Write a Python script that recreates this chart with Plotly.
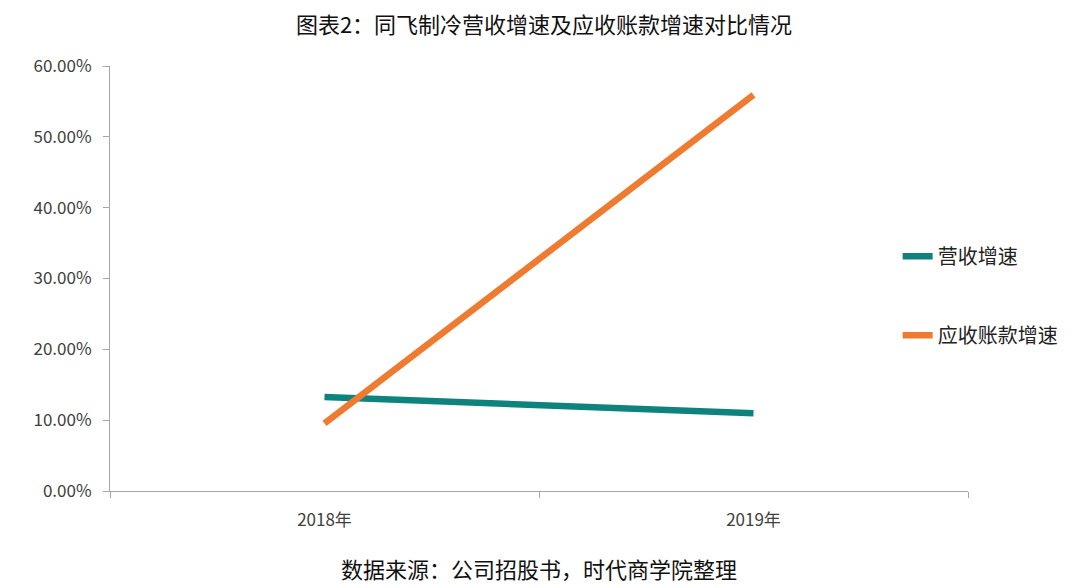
import plotly.graph_objects as go

years = ["2018年", "2019年"]
revenue_growth = [0.1328, 0.1098]
receivable_growth = [0.0955, 0.5592]

fig = go.Figure()

fig.add_trace(go.Scatter(x=years, y=revenue_growth, mode="lines", name="营收增速",
                         legendgroup="a", line=dict(color="#0E837E", width=6.5)))
fig.add_trace(go.Scatter(x=years, y=receivable_growth, mode="lines", name="应收账款增速",
                         legendgroup="b", line=dict(color="#EE7B30", width=6.5)))

# page body has an 8px margin, so the figure is a bit smaller than the window
fig.update_layout(
    width=1072, height=580,
    margin=dict(l=102, r=112, t=58, b=97),
    paper_bgcolor="white", plot_bgcolor="white",
    font=dict(family="Noto Sans CJK SC", color="#404040"),
    title=dict(text="图表2：同飞制冷营收增速及应收账款增速对比情况",
               x=0.5, xanchor="center", y=0.971, yanchor="middle",
               font=dict(size=22, color="#111111")),
    legend=dict(x=0.918, y=0.598, xanchor="left", yanchor="top",
                font=dict(size=20, color="#222222"),
                tracegroupgap=50, itemwidth=30, bgcolor="rgba(0,0,0,0)"),
    annotations=[dict(text="数据来源：公司招股书，时代商学院整理",
                      xref="paper", yref="paper", x=0.5, y=-0.181,
                      xanchor="center", yanchor="middle", showarrow=False,
                      font=dict(size=22, color="#111111"))],
)

fig.update_xaxes(type="category", range=[-0.5, 1.5], tickson="boundaries",
                 showline=True, linecolor="#A6A6A6", linewidth=1,
                 ticks="outside", ticklen=6, tickcolor="#A6A6A6",
                 ticklabelstandoff=14,
                 showgrid=False, tickfont=dict(size=17, color="#404040"))
fig.update_yaxes(range=[0, 0.6], dtick=0.1, tickformat=".2%",
                 showline=True, linecolor="#A6A6A6", linewidth=1,
                 ticks="outside", ticklen=6, tickcolor="#A6A6A6",
                 ticklabelstandoff=8,
                 showgrid=False, zeroline=False,
                 tickfont=dict(size=17, color="#404040"))

fig.write_html("out.html")
